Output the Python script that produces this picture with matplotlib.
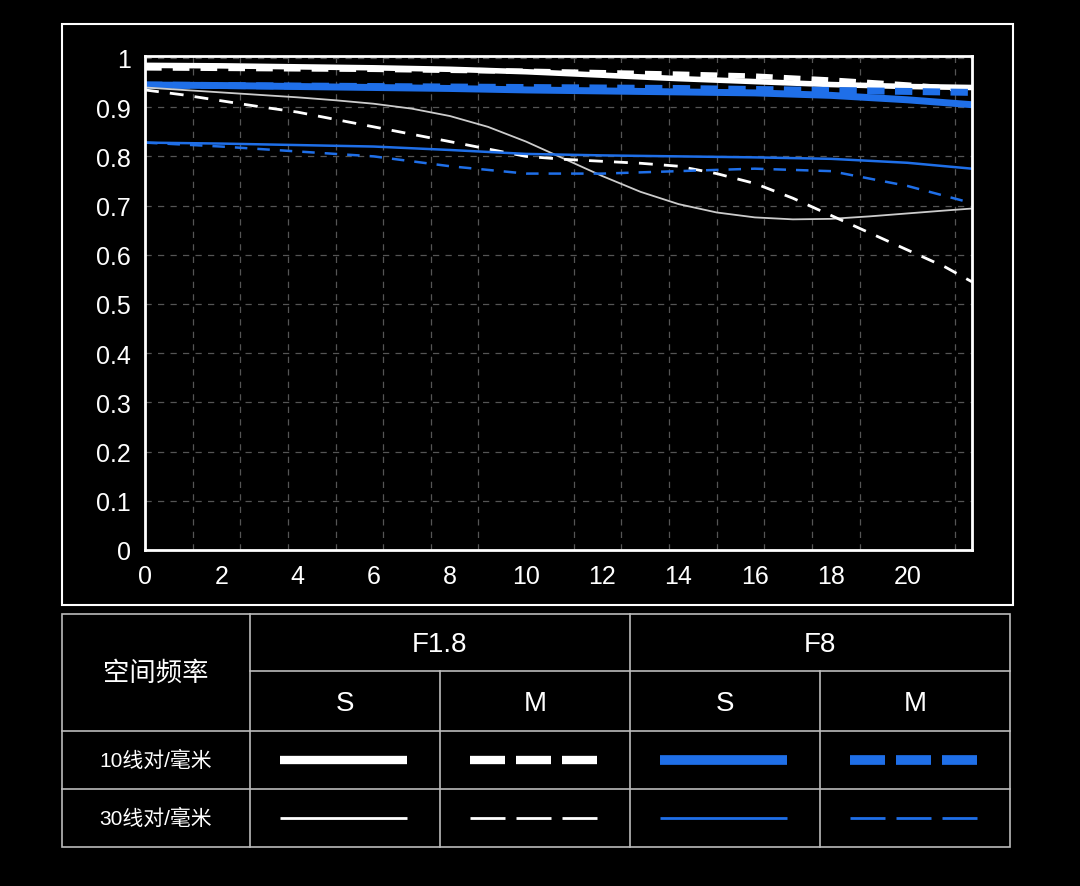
import numpy as np
import matplotlib.pyplot as plt
from matplotlib.patches import Rectangle
from matplotlib.ticker import MultipleLocator

plt.rcParams['font.family'] = ['Liberation Sans', 'Noto Sans CJK SC', 'DejaVu Sans']

BLUE = "#1f6fe8"

# MTF curves: x in mm from centre, y = contrast
x_pts = [0, 2, 4, 6, 8, 10, 12, 14, 16, 18, 20, 21.7]
f18_s10 = [0.985, 0.984, 0.982, 0.98, 0.977, 0.972, 0.965, 0.958, 0.952, 0.946, 0.942, 0.94]
f18_m10 = [0.98, 0.979, 0.978, 0.977, 0.975, 0.973, 0.97, 0.967, 0.963, 0.955, 0.945, 0.935]
f8_s10 = [0.945, 0.944, 0.942, 0.94, 0.938, 0.935, 0.933, 0.931, 0.929, 0.924, 0.915, 0.905]
f8_m10 = [0.945, 0.944, 0.943, 0.942, 0.941, 0.94, 0.939, 0.938, 0.936, 0.934, 0.932, 0.93]
f8_s30 = [0.828, 0.826, 0.823, 0.82, 0.813, 0.805, 0.802, 0.80, 0.798, 0.795, 0.787, 0.775]
f8_m30 = [0.828, 0.82, 0.81, 0.80, 0.78, 0.765, 0.765, 0.77, 0.775, 0.77, 0.74, 0.705]

x_fine = [0, 1, 2, 3, 4, 5, 6, 7, 8, 9, 10, 11, 12, 13, 14, 15, 16, 17, 18, 19, 20, 21, 21.7]
f18_s30 = [0.94, 0.935, 0.93, 0.925, 0.92, 0.914, 0.907, 0.897, 0.882, 0.86, 0.83, 0.795,
           0.76, 0.728, 0.703, 0.686, 0.676, 0.672, 0.673, 0.678, 0.684, 0.69, 0.694]
f18_m30 = [0.935, 0.925, 0.913, 0.901, 0.89, 0.875, 0.86, 0.845, 0.83, 0.815, 0.80, 0.794,
           0.79, 0.786, 0.78, 0.765, 0.745, 0.715, 0.68, 0.645, 0.61, 0.575, 0.545]

x_ticks = [0, 2, 4, 6, 8, 10, 12, 14, 16, 18, 20]
y_ticks = [0, 0.1, 0.2, 0.3, 0.4, 0.5, 0.6, 0.7, 0.8, 0.9, 1]
y_labels = ["0", "0.1", "0.2", "0.3", "0.4", "0.5", "0.6", "0.7", "0.8", "0.9", "1"]

row_head = "空间频率"
apertures = ["F1.8", "F8"]
kinds = ["S", "M"]
freqs = ["10线对/毫米", "30线对/毫米"]

W, H = 1080, 887
fig = plt.figure(figsize=(W / 100, H / 100), dpi=100, facecolor="black")

# background overlay in pixel coords
bg = fig.add_axes([0, 0, 1, 1])
bg.set_xlim(0, W)
bg.set_ylim(H, 0)
bg.axis("off")
bg.add_patch(Rectangle((62, 25), 951, 581, fill=False, ec="white", lw=1.5))

# chart
ax = fig.add_axes([145 / W, 1 - 551 / H, (972 - 145) / W, (551 - 57) / H])
ax.set_facecolor("black")
ax.set_xlim(0, 21.7)
ax.set_ylim(0, 1.004)
ax.xaxis.set_minor_locator(MultipleLocator(1.25))
ax.set_xticks(x_ticks)
ax.set_yticks(y_ticks)
ax.set_yticklabels(y_labels)
ax.tick_params(colors="white", labelsize=18, length=0, pad=10, which="both")
ax.grid(True, which="minor", axis="x", color="#555555", ls=(0, (5, 5)), lw=0.9)
ax.grid(True, which="major", axis="y", color="#555555", ls=(0, (5, 5)), lw=0.9)
for s in ax.spines.values():
    s.set_color("white")
    s.set_linewidth(2)

ax.plot(x_pts, f18_s10, color="white", lw=4)
ax.plot(x_pts, f18_m10, color="white", lw=4, ls=(0, (3, 2)))
ax.plot(x_pts, f8_s10, color=BLUE, lw=5)
ax.plot(x_pts, f8_m10, color=BLUE, lw=5, ls=(0, (2.5, 1.5)))
ax.plot(x_fine, f18_s30, color="#cccccc", lw=1.3)
ax.plot(x_fine, f18_m30, color="white", lw=2, ls=(0, (5, 4)))
ax.plot(x_pts, f8_s30, color=BLUE, lw=1.8)
ax.plot(x_pts, f8_m30, color=BLUE, lw=1.8, ls=(0, (5, 4)))

# legend table
cols = [62, 250, 440, 630, 820, 1010]
rows = [615, 672, 732, 790, 848]
lc = "#bbbbbb"
bg.add_patch(Rectangle((cols[0], rows[0]), cols[-1] - cols[0], rows[-1] - rows[0],
                       fill=False, ec=lc, lw=1.2))
for r in rows[1:-1]:
    x0 = cols[1] if r == rows[1] else cols[0]
    bg.plot([x0, cols[-1]], [r, r], color=lc, lw=1.2)
for i, c in enumerate(cols[1:-1]):
    y0 = rows[0] if i % 2 == 0 else rows[1]
    bg.plot([c, c], [y0, rows[-1]], color=lc, lw=1.2)

bg.text((cols[0] + cols[1]) / 2, (rows[0] + rows[2]) / 2, row_head, color="white",
        fontsize=19, ha="center", va="center", family=['Noto Sans CJK SC'])
for i, a in enumerate(apertures):
    bg.text((cols[1 + 2 * i] + cols[3 + 2 * i]) / 2, (rows[0] + rows[1]) / 2 + 2, a,
            color="white", fontsize=20, ha="center", va="center")
    for j, k in enumerate(kinds):
        c = 1 + 2 * i + j
        bg.text((cols[c] + cols[c + 1]) / 2, (rows[1] + rows[2]) / 2 + 2, k,
                color="white", fontsize=20, ha="center", va="center")
for r, f in enumerate(freqs):
    bg.text((cols[0] + cols[1]) / 2, (rows[2 + r] + rows[3 + r]) / 2, f,
            color="white", fontsize=15, ha="center", va="center",
            family=['Liberation Sans', 'Noto Sans CJK SC'])

# legend samples: solid line or three dashes
styles = [
    [("white", 6, False), ("white", 6, True), (BLUE, 7, False), (BLUE, 7, True)],
    [("white", 2, False), ("white", 2, True), (BLUE, 2, False), (BLUE, 2, True)],
]
for r in range(2):
    y = (rows[2 + r] + rows[3 + r]) / 2
    for c in range(4):
        col, lw, dashed = styles[r][c]
        x0, x1 = cols[1 + c] + 30, cols[2 + c] - 33
        if dashed:
            seg = (x1 - x0) / 3.6
            for k in range(3):
                s = x0 + k * seg * 1.3
                bg.plot([s, s + seg], [y, y], color=col, lw=lw, solid_capstyle="butt")
        else:
            bg.plot([x0, x1], [y, y], color=col, lw=lw, solid_capstyle="butt")

fig.savefig("out.png", dpi=100, facecolor="black")
